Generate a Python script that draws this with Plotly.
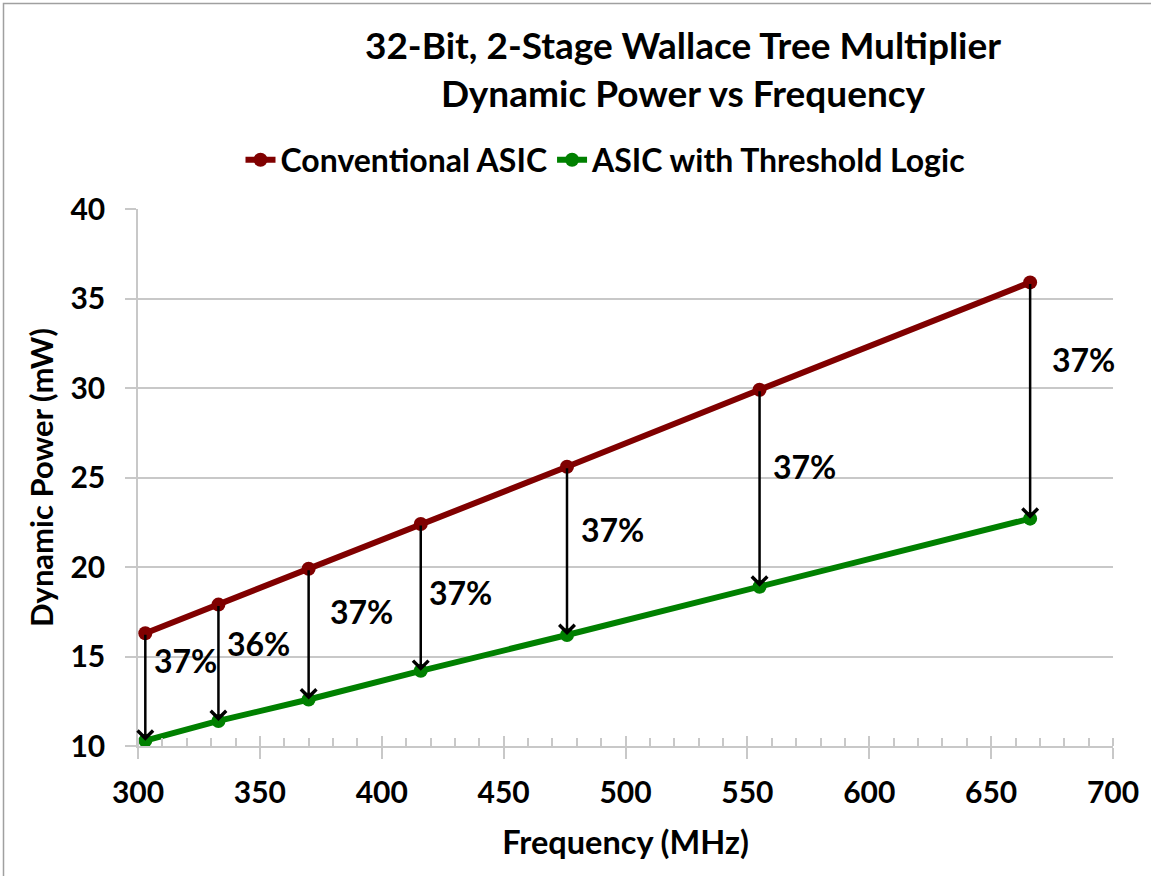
import plotly.graph_objects as go

# ---- data ----
freq_mhz = [303, 333, 370, 416, 476, 555, 666]
conventional_mw = [16.3, 17.9, 19.9, 22.4, 25.6, 29.9, 35.9]
threshold_mw = [10.3, 11.4, 12.6, 14.2, 16.2, 18.9, 22.7]
savings_labels = ["37%", "36%", "37%", "37%", "37%", "37%", "37%"]
label_x = [319.4, 349.3, 391.6, 432.2, 494.5, 573.3, 687.7]
label_y = [14.75, 15.7, 17.5, 18.6, 22.1, 25.6, 31.6]

FONT = "Lato"
RED = "#800000"
GREEN = "#008000"
GRID = "#c8c8c8"

W, H = 1151, 876
L, R, T, B = 138, 38, 209, 130

fig = go.Figure()
fig.add_trace(go.Scatter(
    x=freq_mhz, y=conventional_mw, mode="lines+markers", name="Conventional ASIC",
    line=dict(color=RED, width=6), marker=dict(color=RED, size=14)))
fig.add_trace(go.Scatter(
    x=freq_mhz, y=threshold_mw, mode="lines+markers", name="ASIC with Threshold Logic",
    line=dict(color=GREEN, width=6), marker=dict(color=GREEN, size=14)))
# dummy trace for second x-axis (inside major ticks)
fig.add_trace(go.Scatter(x=[300, 700], y=[10, 10], xaxis="x2", mode="none",
                         showlegend=False, hoverinfo="skip"))

annotations = []
for fx, yc, yt in zip(freq_mhz, conventional_mw, threshold_mw):
    annotations.append(dict(
        x=fx, y=yt, ax=fx, ay=yc, xref="x", yref="y", axref="x", ayref="y",
        text="", showarrow=True, arrowhead=4, arrowsize=1.2, arrowwidth=2.5,
        arrowcolor="black", standoff=0, startstandoff=0))
for lx, ly, t in zip(label_x, label_y, savings_labels):
    annotations.append(dict(
        x=lx, y=ly, xref="x", yref="y", text=t, showarrow=False,
        font=dict(family=FONT, size=32, color="black", weight="bold")))

fig.update_layout(
    width=W, height=H,
    margin=dict(l=L, r=R, t=T, b=B, autoexpand=False),
    paper_bgcolor="white", plot_bgcolor="white",
    font=dict(family=FONT, color="black"),
    title=dict(
        text="32-Bit, 2-Stage Wallace Tree Multiplier<br>Dynamic Power vs Frequency",
        font=dict(family=FONT, size=37, color="black", weight="bold"),
        xref="container", x=683 / W, xanchor="center",
        yref="container", y=1 - 59 / H, yanchor="middle"),
    legend=dict(
        orientation="h", xref="container", x=606 / W, xanchor="center",
        yref="container", y=1 - 160 / H, yanchor="middle",
        font=dict(family=FONT, size=32, color="black", weight="bold"),
        itemwidth=30, tracegroupgap=0, bgcolor="rgba(0,0,0,0)"),
    xaxis=dict(
        range=[300, 700], dtick=50, tick0=300, showgrid=False,
        showline=True, linecolor=GRID, linewidth=1.5,
        ticks="outside", ticklen=11, tickcolor=GRID, tickwidth=1.5,
        tickfont=dict(family=FONT, size=30, color="black", weight="bold"),
        ticklabelstandoff=8,
        minor=dict(dtick=10, tick0=300, ticks="inside", ticklen=8,
                   tickcolor=GRID, tickwidth=1.5, showgrid=False),
        title=dict(text="Frequency (MHz)", standoff=23,
                   font=dict(family=FONT, size=32.5, color="black", weight="bold")),
        zeroline=False),
    xaxis2=dict(
        range=[300, 700], dtick=50, tick0=300, overlaying="x", side="bottom",
        showgrid=False, showline=False, showticklabels=False,
        ticks="inside", ticklen=10, tickcolor=GRID, tickwidth=1.5, zeroline=False),
    yaxis=dict(
        range=[10, 40], dtick=5, tick0=10, showgrid=True, gridcolor=GRID, gridwidth=1.5,
        showline=True, linecolor=GRID, linewidth=1.5,
        ticks="outside", ticklen=11, tickcolor=GRID, tickwidth=1.5,
        tickfont=dict(family=FONT, size=30, color="black", weight="bold"),
        ticklabelstandoff=14,
        title=dict(text="Dynamic Power (mW)", standoff=8,
                   font=dict(family=FONT, size=31, color="black", weight="bold")),
        zeroline=False),
    annotations=annotations,
    shapes=[dict(type="rect", xref="paper", yref="paper",
                 x0=(3.5 - L) / (W - L - R), x1=(W + 20 - L) / (W - L - R),
                 y0=-(H + 20 - (H - B)) / (H - T - B), y1=(H - 3.5 - B) / (H - T - B),
                 line=dict(color="#a0a0a0", width=1.5), layer="below")],
    showlegend=True,
)

fig.write_html("out.html")
